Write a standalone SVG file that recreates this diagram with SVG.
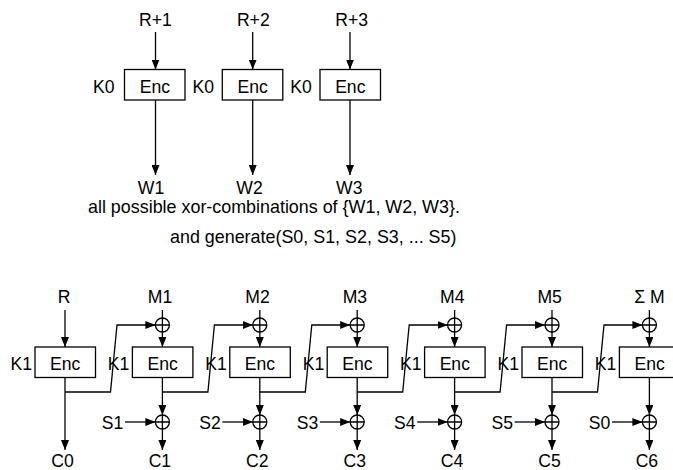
<svg xmlns="http://www.w3.org/2000/svg" width="673" height="470" viewBox="0 0 673 470">
<style>
text{font-family:"Liberation Sans",Arial,Helvetica,sans-serif;font-size:17.6px;fill:#000}
.cap{font-size:17.9px}
.m{text-anchor:middle}
.e{text-anchor:end}
.box{fill:#fff;stroke:#000;stroke-width:1.3}
.ln{fill:none;stroke:#000;stroke-width:1.3}
.ar{fill:none;stroke:#000;stroke-width:1.3;marker-end:url(#ah)}
.x{fill:#fff;stroke:#000;stroke-width:1.3}
</style>
<defs>
<marker id="ah" markerUnits="userSpaceOnUse" markerWidth="10" markerHeight="8" refX="10" refY="4" orient="auto">
<path d="M0,0 L10,4 L0,8 z" fill="#000"/>
</marker>
<g id="xor">
<circle cx="0" cy="0" r="7" class="x"/>
<path d="M-7,0 H7 M0,-7 V7" class="ln"/>
</g>
</defs>
<rect width="673" height="470" fill="#fff"/>

<!-- top section -->
<g id="top-labels">
<text x="155.5" y="26" class="m">R+1</text>
<text x="253.3" y="26" class="m">R+2</text>
<text x="351.7" y="26" class="m">R+3</text>
<text x="151" y="193.5" class="m">W1</text>
<text x="249.5" y="193.5" class="m">W2</text>
<text x="349.3" y="193.5" class="m">W3</text>
</g>
<g id="enc0a"><rect x="124.5" y="69.5" width="60.5" height="30.5" class="box"/><text x="155" y="92.5" class="m">Enc</text><text x="114.5" y="92.5" class="e">K0</text></g>
<g id="enc0b"><rect x="222.3" y="69.5" width="60.5" height="30.5" class="box"/><text x="252.7" y="92.5" class="m">Enc</text><text x="214" y="92.5" class="e">K0</text></g>
<g id="enc0c"><rect x="320" y="69.5" width="60.5" height="30.5" class="box"/><text x="350.3" y="92.5" class="m">Enc</text><text x="311.7" y="92.5" class="e">K0</text></g>
<g id="top-connectors">
<path d="M155.5,32 V69.5" class="ar"/>
<path d="M252.7,32 V69.5" class="ar"/>
<path d="M350,32 V69.5" class="ar"/>
<path d="M155.5,100 V175" class="ar"/>
<path d="M252.7,100 V175" class="ar"/>
<path d="M350,100 V175" class="ar"/>
</g>
<g id="caption">
<text x="88" y="212.5" class="cap">all possible xor-combinations of {W1, W2, W3}.</text>
<text x="170" y="243" class="cap">and generate(S0, S1, S2, S3, ... S5)</text>
</g>

<!-- bottom section -->
<g id="bottom-labels">
<text x="64" y="303" class="m">R</text>
<text x="160.1" y="303" class="m">M1</text>
<text x="257.5" y="303" class="m">M2</text>
<text x="354.9" y="303" class="m">M3</text>
<text x="452.3" y="303" class="m">M4</text>
<text x="549.7" y="303" class="m">M5</text>
<text x="649.5" y="303" class="m">Σ M</text>
<text x="62.5" y="467" class="m">C0</text>
<text x="159.9" y="467" class="m">C1</text>
<text x="257.3" y="467" class="m">C2</text>
<text x="354.7" y="467" class="m">C3</text>
<text x="452.1" y="467" class="m">C4</text>
<text x="549.5" y="467" class="m">C5</text>
<text x="646.9" y="467" class="m">C6</text>
<text x="123.4" y="428.5" class="e">S1</text>
<text x="220.8" y="428.5" class="e">S2</text>
<text x="318.2" y="428.5" class="e">S3</text>
<text x="415.6" y="428.5" class="e">S4</text>
<text x="513" y="428.5" class="e">S5</text>
<text x="610.4" y="428.5" class="e">S0</text>
</g>

<g id="connectors">
<path d="M65,310 V347" class="ar"/>
<path d="M65,377.5 V450" class="ar"/>
<path d="M65,392 H110.5 L117,325 H155.4" class="ar"/>
<path d="M162.4,392 H207.9 L214.4,325 H252.8" class="ar"/>
<path d="M259.8,392 H305.3 L311.8,325 H350.2" class="ar"/>
<path d="M357.2,392 H402.7 L409.2,325 H447.6" class="ar"/>
<path d="M454.6,392 H500.1 L506.6,325 H545" class="ar"/>
<path d="M552,392 H597.5 L604,325 H642.4" class="ar"/>
<path d="M162.4,310 V318 M259.8,310 V318 M357.2,310 V318 M454.6,310 V318 M552,310 V318 M649.4,310 V318" class="ln"/>
<path d="M162.4,332 V347" class="ar"/>
<path d="M259.8,332 V347" class="ar"/>
<path d="M357.2,332 V347" class="ar"/>
<path d="M454.6,332 V347" class="ar"/>
<path d="M552,332 V347" class="ar"/>
<path d="M649.4,332 V347" class="ar"/>
<path d="M162.4,377.5 V415" class="ar"/>
<path d="M259.8,377.5 V415" class="ar"/>
<path d="M357.2,377.5 V415" class="ar"/>
<path d="M454.6,377.5 V415" class="ar"/>
<path d="M552,377.5 V415" class="ar"/>
<path d="M649.4,377.5 V415" class="ar"/>
<path d="M162.4,429 V450" class="ar"/>
<path d="M259.8,429 V450" class="ar"/>
<path d="M357.2,429 V450" class="ar"/>
<path d="M454.6,429 V450" class="ar"/>
<path d="M552,429 V450" class="ar"/>
<path d="M649.4,429 V450" class="ar"/>
<path d="M125,422 H155.4" class="ar"/>
<path d="M222.4,422 H252.8" class="ar"/>
<path d="M319.8,422 H350.2" class="ar"/>
<path d="M417.2,422 H447.6" class="ar"/>
<path d="M514.6,422 H545" class="ar"/>
<path d="M612,422 H642.4" class="ar"/>
</g>

<g id="xor-top">
<use href="#xor" x="162.4" y="325"/>
<use href="#xor" x="259.8" y="325"/>
<use href="#xor" x="357.2" y="325"/>
<use href="#xor" x="454.6" y="325"/>
<use href="#xor" x="552" y="325"/>
<use href="#xor" x="649.4" y="325"/>
</g>
<g id="xor-bottom">
<use href="#xor" x="162.4" y="422"/>
<use href="#xor" x="259.8" y="422"/>
<use href="#xor" x="357.2" y="422"/>
<use href="#xor" x="454.6" y="422"/>
<use href="#xor" x="552" y="422"/>
<use href="#xor" x="649.4" y="422"/>
</g>

<g id="enc1"><rect x="35" y="347" width="60.5" height="30.5" class="box"/><text x="65.2" y="369.5" class="m">Enc</text><text x="32" y="369.5" class="e">K1</text></g>
<g id="enc2"><rect x="132.4" y="347" width="60.5" height="30.5" class="box"/><text x="162.6" y="369.5" class="m">Enc</text><text x="129.4" y="369.5" class="e">K1</text></g>
<g id="enc3"><rect x="229.8" y="347" width="60.5" height="30.5" class="box"/><text x="260" y="369.5" class="m">Enc</text><text x="226.8" y="369.5" class="e">K1</text></g>
<g id="enc4"><rect x="327.2" y="347" width="60.5" height="30.5" class="box"/><text x="357.4" y="369.5" class="m">Enc</text><text x="324.2" y="369.5" class="e">K1</text></g>
<g id="enc5"><rect x="424.6" y="347" width="60.5" height="30.5" class="box"/><text x="454.8" y="369.5" class="m">Enc</text><text x="421.6" y="369.5" class="e">K1</text></g>
<g id="enc6"><rect x="522" y="347" width="60.5" height="30.5" class="box"/><text x="552.2" y="369.5" class="m">Enc</text><text x="519" y="369.5" class="e">K1</text></g>
<g id="enc7"><rect x="619.4" y="347" width="60.5" height="30.5" class="box"/><text x="649.6" y="369.5" class="m">Enc</text><text x="616.4" y="369.5" class="e">K1</text></g>
</svg>
